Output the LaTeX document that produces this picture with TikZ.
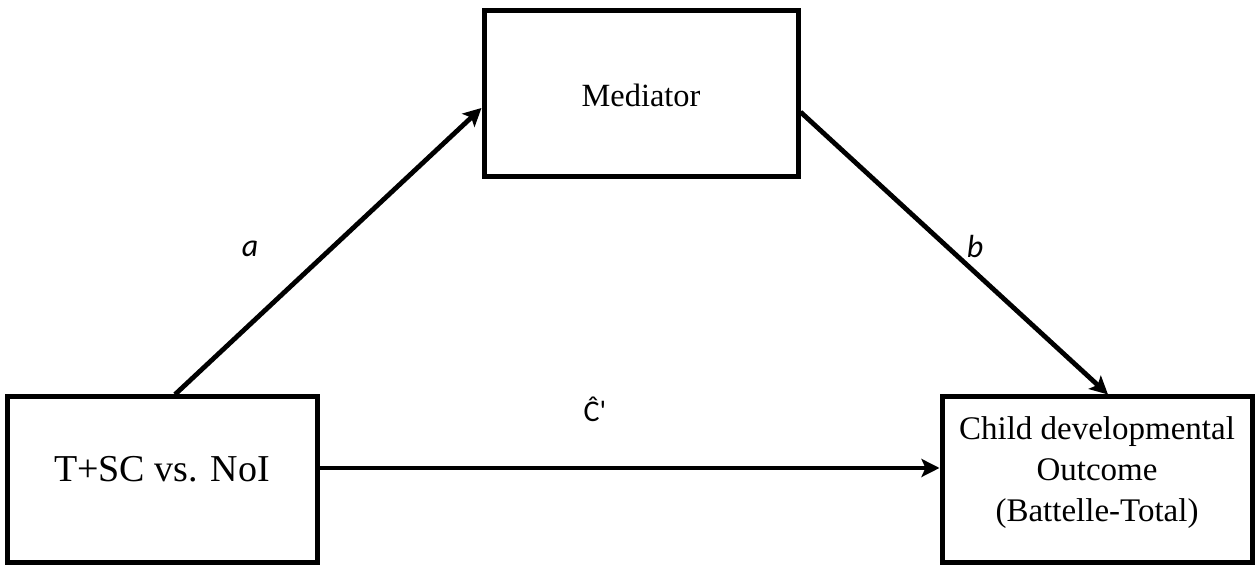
\documentclass[tikz,border=0pt]{standalone}
\usepackage{fontspec}
\setmainfont{Liberation Serif}
\newfontfamily\lblfont{Carlito}
\usetikzlibrary{arrows, arrows.meta}

\begin{document}
\begin{tikzpicture}[x=0.5pt,y=0.5pt,
  box/.style={draw,line width=2.5pt,minimum width=155pt,minimum height=83pt,inner sep=0pt},
  arr/.style={line width=2.4pt,-{Stealth[length=9pt,width=9pt,inset=2pt]}}]
\useasboundingbox (0,0) rectangle (1255,565);
\node[box] (lbox) at (162,85) {};
\node[box,minimum width=157pt] (med) at (641,471) {};
\node[box] (rbox) at (1097,85) {};
\node[anchor=base,font=\fontsize{19}{23}\selectfont] (ltxt) at (162,83) {T+SC vs. NoI};
\node[anchor=base,font=\fontsize{16.2}{20}\selectfont] (mtxt) at (641,458) {Mediator};
\node[align=center,font=\fontsize{16.5}{20.5}\selectfont] (rtxt) at (1097,92)
  {Child developmental\\Outcome\\(Battelle-Total)};
\draw[arr] ([xshift=6.5pt]lbox.north) -- ([yshift=-7pt]med.west);
\draw[arr] ([yshift=-9pt]med.east) -- ([xshift=5.5pt]rbox.north);
\draw[arr] ([yshift=6pt]lbox.east) -- ([yshift=6pt]rbox.west);
\node[] (la) at (250,316) {\lblfont\fontsize{16}{19}\selectfont\itshape a};
\node[] (lb) at (975,318) {\lblfont\fontsize{16}{19}\selectfont\itshape b};
\node[] (lc) at (595,156) {\lblfont\fontsize{15}{18}\selectfont Ĉ'};
\end{tikzpicture}
\end{document}
